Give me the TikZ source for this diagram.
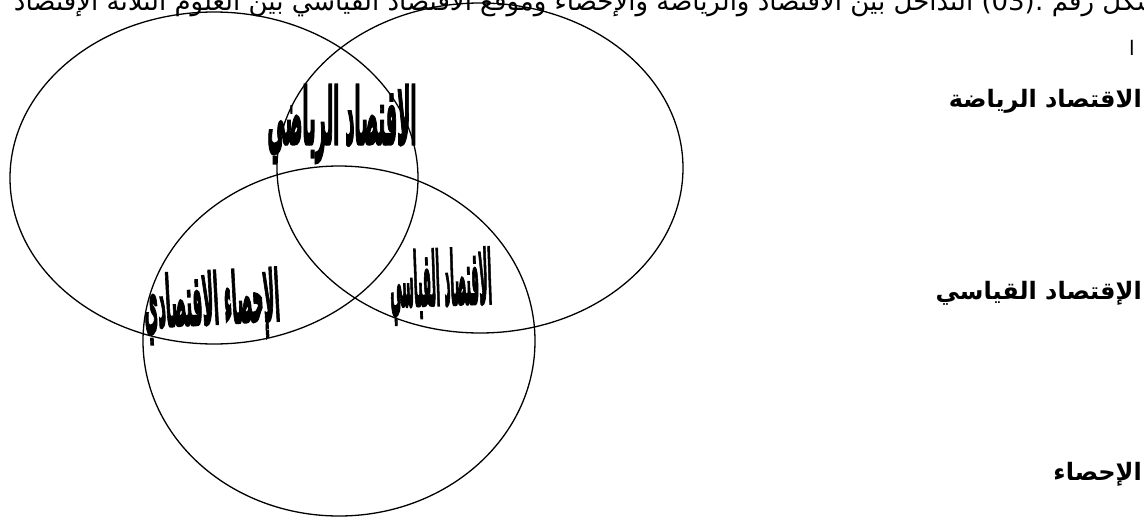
\documentclass[tikz,border=0pt]{standalone}
\usepackage{fontspec}
\usepackage{graphicx}
\newfontfamily\arabicfont[Script=Arabic]{DejaVu Sans}
\newfontfamily\heavyfont[Script=Arabic,BoldFeatures={FakeBold=4}]{DejaVu Sans}
\TeXXeTstate=1
\newcommand{\artext}[1]{\beginR #1\endR}

\begin{document}
\begin{tikzpicture}[x=1pt,y=-1pt,
 field/.style={line width=1.3pt},
 overlap/.style={font=\heavyfont\bfseries,inner sep=0pt},
 legend/.style={font=\arabicfont\bfseries\fontsize{24}{28}\selectfont,
 anchor=east,inner sep=0pt}]
\useasboundingbox (0,0) rectangle (1144,517);
% caption line, cut at the top of the page
\node[font=\arabicfont\fontsize{26}{30}\selectfont,anchor=base east,inner sep=0pt]
 (caption) at (1175,10) {\artext{الشكل رقم \beginL :(03)\endL{} التداخل بين الاقتصاد والرياضة والإحصاء وموقع الاقتصاد القياسي بين العلوم الثلاثة الإقتصاد}};
% the three fields
\draw[field] (214,178) ellipse [x radius=204,y radius=166];
\draw[field] (480,168) ellipse [x radius=203,y radius=165];
\draw[field] (339,341) ellipse [x radius=196,y radius=175];
% overlaps
\node[overlap] (mathecon) at (342,124)
 {\resizebox*{149pt}{78pt}{\artext{الاقتصاد الرياضي}}};
\node[overlap,rotate=3] (ecostat) at (212,306)
 {\resizebox*{136pt}{70pt}{\artext{الإحصاء الاقتصادي}}};
\node[overlap,rotate=2] (econometrics) at (441,286)
 {\resizebox*{102pt}{74pt}{\artext{الاقتصاد القياسي}}};
% legend on the right
\node[font=\arabicfont\fontsize{20}{24}\selectfont,inner sep=0pt] (mark) at (1132,48) {\artext{ا}};
\node[legend] (mathlbl) at (1142,101) {\artext{الاقتصاد الرياضة}};
\node[legend] (metlbl) at (1142,293) {\artext{الإقتصاد القياسي}};
\node[legend] (statlbl) at (1142,474) {\artext{الإحصاء}};
\end{tikzpicture}
\end{document}
